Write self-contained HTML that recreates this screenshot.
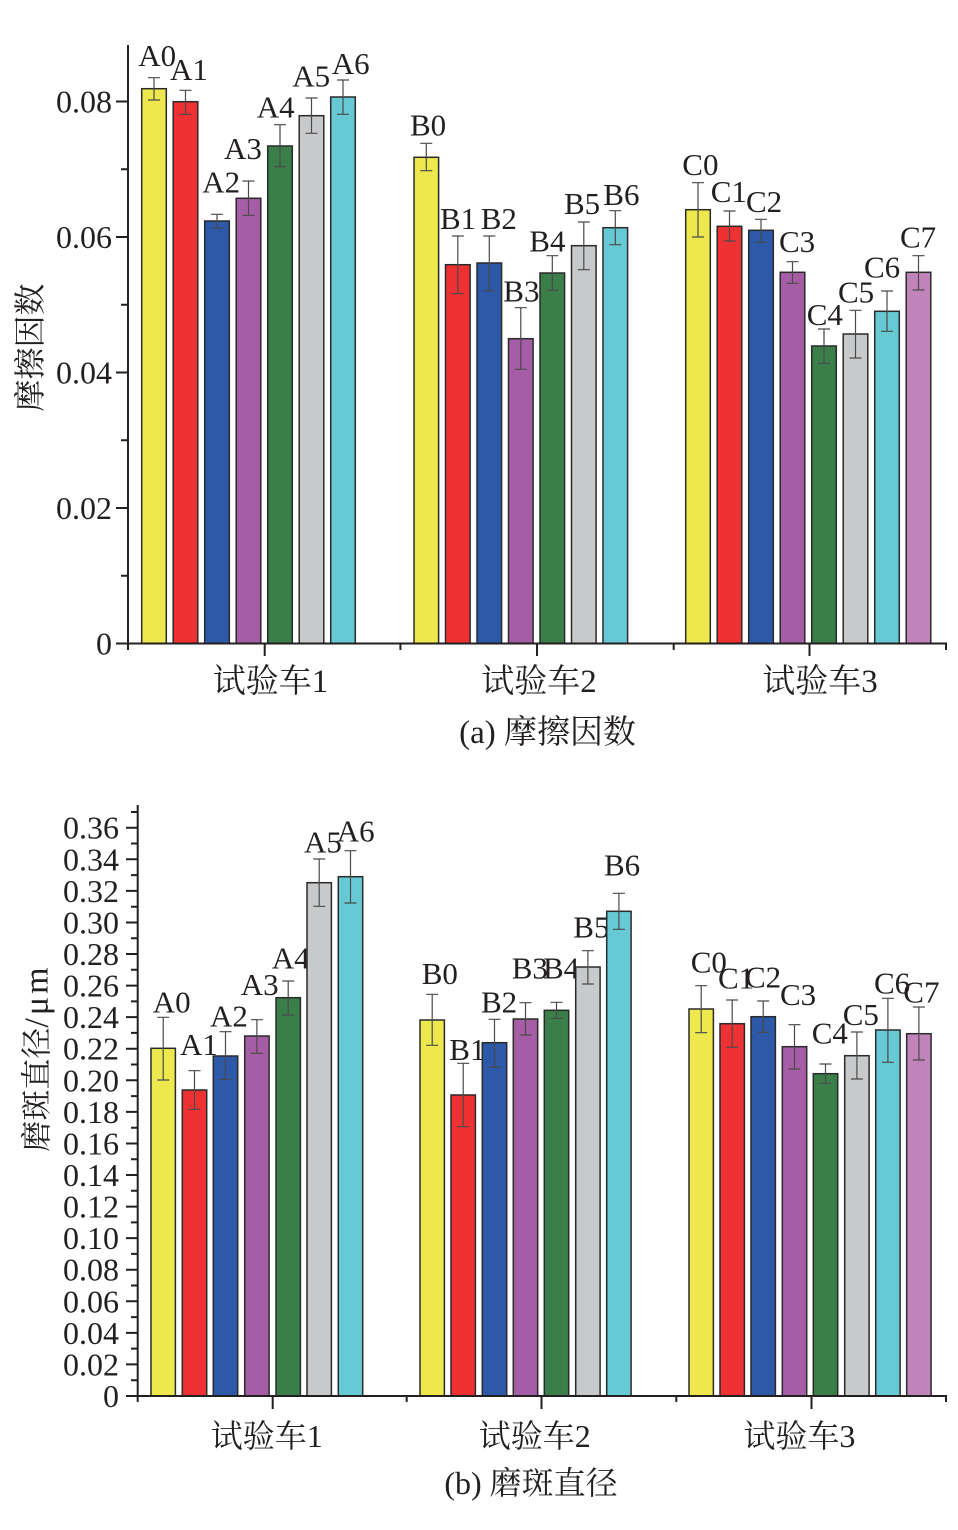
<!DOCTYPE html>
<html><head><meta charset="utf-8"><style>
html,body{margin:0;padding:0;background:#fff;}
svg{display:block;}
.t{font-family:"Liberation Serif","Noto Serif CJK SC",serif;fill:#231f20;}
</style></head><body>
<svg width="958" height="1530" viewBox="0 0 958 1530" xmlns="http://www.w3.org/2000/svg">
<rect width="958" height="1530" fill="#fff"/>

<!-- ================= TOP CHART ================= -->
<g class="t" font-size="31">
<text x="138.3" y="66">A0</text><text x="170" y="80">A1</text><text x="202.3" y="192.3">A2</text><text x="224" y="159">A3</text><text x="256.7" y="117.3">A4</text><text x="292.3" y="86.7">A5</text><text x="331.7" y="74">A6</text>
<text x="410" y="135.7">B0</text><text x="440" y="229">B1</text><text x="480.7" y="229">B2</text><text x="503.3" y="301.7">B3</text><text x="529.3" y="251.7">B4</text><text x="564" y="214">B5</text><text x="603.3" y="205">B6</text>
<text x="682.3" y="175">C0</text><text x="710.7" y="202">C1</text><text x="746" y="212">C2</text><text x="779" y="252">C3</text><text x="806.7" y="325">C4</text><text x="838" y="302.7">C5</text><text x="864" y="277.7">C6</text><text x="900" y="247.3">C7</text>
</g>
<g stroke="#2a2a2a" stroke-width="1.5">
<rect x="141.7" y="88.7" width="24.6" height="554.8" fill="#ECE84E"/>
<rect x="173.2" y="101.7" width="24.6" height="541.8" fill="#EE3233"/>
<rect x="204.7" y="221" width="24.6" height="422.5" fill="#2E59A8"/>
<rect x="236.2" y="198.3" width="24.6" height="445.2" fill="#A55EA5"/>
<rect x="267.7" y="146" width="24.6" height="497.5" fill="#3A7F4A"/>
<rect x="299.2" y="115.7" width="24.6" height="527.8" fill="#C8C9CB"/>
<rect x="330.7" y="97" width="24.6" height="546.5" fill="#67C9D3"/>

<rect x="414" y="157.3" width="24.6" height="486.2" fill="#ECE84E"/>
<rect x="445.5" y="264.7" width="24.6" height="378.8" fill="#EE3233"/>
<rect x="477" y="263" width="24.6" height="380.5" fill="#2E59A8"/>
<rect x="508.5" y="338.7" width="24.6" height="304.8" fill="#A55EA5"/>
<rect x="540" y="273" width="24.6" height="370.5" fill="#3A7F4A"/>
<rect x="571.5" y="245.7" width="24.6" height="397.8" fill="#C8C9CB"/>
<rect x="603" y="227.7" width="24.6" height="415.8" fill="#67C9D3"/>

<rect x="685.7" y="209.7" width="24.6" height="433.8" fill="#ECE84E"/>
<rect x="717.2" y="226.3" width="24.6" height="417.2" fill="#EE3233"/>
<rect x="748.7" y="230.3" width="24.6" height="413.2" fill="#2E59A8"/>
<rect x="780.2" y="272.3" width="24.6" height="371.2" fill="#A55EA5"/>
<rect x="811.7" y="346" width="24.6" height="297.5" fill="#3A7F4A"/>
<rect x="843.2" y="334" width="24.6" height="309.5" fill="#C8C9CB"/>
<rect x="874.7" y="311.3" width="24.6" height="332.2" fill="#67C9D3"/>
<rect x="906.2" y="272.3" width="24.6" height="371.2" fill="#C184BA"/>
</g>
<g stroke="#4a4a4a" stroke-width="1.2" fill="none">
<path d="M148 77.7H160M154 77.7V100M148 100H160"/>
<path d="M179.5 90.3H191.5M185.5 90.3V114.3M179.5 114.3H191.5"/>
<path d="M211 214.3H223M217 214.3V228.3M211 228.3H223"/>
<path d="M242.5 181H254.5M248.5 181V215.3M242.5 215.3H254.5"/>
<path d="M274 124.7H286M280 124.7V166.7M274 166.7H286"/>
<path d="M305.5 98H317.5M311.5 98V133.3M305.5 133.3H317.5"/>
<path d="M337 80H349M343 80V114.3M337 114.3H349"/>

<path d="M420.3 143.3H432.3M426.3 143.3V170.7M420.3 170.7H432.3"/>
<path d="M451.8 236H463.8M457.8 236V293.7M451.8 293.7H463.8"/>
<path d="M483.3 236H495.3M489.3 236V290.7M483.3 290.7H495.3"/>
<path d="M514.8 307.7H526.8M520.8 307.7V369.3M514.8 369.3H526.8"/>
<path d="M546.3 255.7H558.3M552.3 255.7V290.3M546.3 290.3H558.3"/>
<path d="M577.8 222H589.8M583.8 222V269.7M577.8 269.7H589.8"/>
<path d="M609.3 210.7H621.3M615.3 210.7V244.7M609.3 244.7H621.3"/>

<path d="M692 182.7H704M698 182.7V237M692 237H704"/>
<path d="M723.5 211H735.5M729.5 211V241M723.5 241H735.5"/>
<path d="M755 219.3H767M761 219.3V242.3M755 242.3H767"/>
<path d="M786.5 261.7H798.5M792.5 261.7V283.3M786.5 283.3H798.5"/>
<path d="M818 329H830M824 329V363.3M818 363.3H830"/>
<path d="M849.5 310.3H861.5M855.5 310.3V358M849.5 358H861.5"/>
<path d="M881 291H893M887 291V331.3M881 331.3H893"/>
<path d="M912.5 255.7H924.5M918.5 255.7V290M912.5 290H924.5"/>
</g>
<g stroke="#231f20" stroke-width="2" fill="none">
<path d="M128 45V644.5"/>
<path d="M127 643.5H947"/>
<path d="M116 643.5H128M116 508H128M116 372.5H128M116 237H128M116 101.5H128"/>
<path d="M121 575.75H128M121 440.25H128M121 304.75H128M121 169.25H128"/>
<path d="M264.7 643.5V656M537 643.5V656M809.5 643.5V656"/>
<path d="M128 643.5V650M400.4 643.5V650M673.7 643.5V650M946 643.5V650"/>
</g>
<g class="t" font-size="32" text-anchor="end">
<text x="112" y="654.5">0</text>
<text x="112" y="519">0.02</text>
<text x="112" y="383.5">0.04</text>
<text x="112" y="248">0.06</text>
<text x="112" y="112.5">0.08</text>
</g>
<g class="t" font-size="33" text-anchor="middle">
<text x="270.5" y="692">试验车1</text>
<text x="539" y="692">试验车2</text>
<text x="820" y="692">试验车3</text>
<text x="547.6" y="743">(a) 摩擦因数</text>
</g>
<text class="t" font-size="32" text-anchor="middle" transform="translate(41,347.5) rotate(-90)">摩擦因数</text>

<!-- ================= BOTTOM CHART ================= -->
<g class="t" font-size="31">
<text x="152.7" y="1012.7">A0</text><text x="180" y="1055">A1</text><text x="210" y="1026.7">A2</text><text x="240.7" y="995">A3</text><text x="271.7" y="968.3">A4</text><text x="304" y="852.7">A5</text><text x="336.7" y="841.7">A6</text>
<text x="421.7" y="984">B0</text><text x="449.3" y="1060">B1</text><text x="481" y="1012.7">B2</text><text x="511.7" y="978.3">B3</text><text x="543" y="978.3">B4</text><text x="573.3" y="937.3">B5</text><text x="604" y="875.7">B6</text>
<text x="690.7" y="972.3">C0</text><text x="718" y="988.3">C1</text><text x="745" y="987.3">C2</text><text x="780" y="1005">C3</text><text x="811.7" y="1043.3">C4</text><text x="842.7" y="1025">C5</text><text x="874" y="993.3">C6</text><text x="903.3" y="1002.7">C7</text>
</g>
<g stroke="#2a2a2a" stroke-width="1.5">
<rect x="151" y="1048.3" width="24.4" height="347.7" fill="#ECE84E"/>
<rect x="182.3" y="1090" width="24.4" height="306" fill="#EE3233"/>
<rect x="213.3" y="1056" width="24.4" height="340" fill="#2E59A8"/>
<rect x="244.7" y="1036" width="24.4" height="360" fill="#A55EA5"/>
<rect x="276" y="997.7" width="24.4" height="398.3" fill="#3A7F4A"/>
<rect x="307" y="882.7" width="24.4" height="513.3" fill="#C8C9CB"/>
<rect x="338.3" y="876.7" width="24.4" height="519.3" fill="#67C9D3"/>

<rect x="420" y="1020" width="24.4" height="376" fill="#ECE84E"/>
<rect x="451" y="1095" width="24.4" height="301" fill="#EE3233"/>
<rect x="482.3" y="1042.7" width="24.4" height="353.3" fill="#2E59A8"/>
<rect x="513.3" y="1019" width="24.4" height="377" fill="#A55EA5"/>
<rect x="544.3" y="1010.3" width="24.4" height="385.7" fill="#3A7F4A"/>
<rect x="575.7" y="967" width="24.4" height="429" fill="#C8C9CB"/>
<rect x="606.7" y="911.3" width="24.4" height="484.7" fill="#67C9D3"/>

<rect x="689" y="1009" width="24.4" height="387" fill="#ECE84E"/>
<rect x="720" y="1023.7" width="24.4" height="372.3" fill="#EE3233"/>
<rect x="751" y="1016.7" width="24.4" height="379.3" fill="#2E59A8"/>
<rect x="782.3" y="1046.7" width="24.4" height="349.3" fill="#A55EA5"/>
<rect x="813.3" y="1073.7" width="24.4" height="322.3" fill="#3A7F4A"/>
<rect x="844.7" y="1055.7" width="24.4" height="340.3" fill="#C8C9CB"/>
<rect x="875.7" y="1030" width="24.4" height="366" fill="#67C9D3"/>
<rect x="906.7" y="1033.7" width="24.4" height="362.3" fill="#C184BA"/>
</g>
<g stroke="#4a4a4a" stroke-width="1.2" fill="none">
<path d="M157.2 1017.3H169.2M163.2 1017.3V1080M157.2 1080H169.2"/>
<path d="M188.5 1070.7H200.5M194.5 1070.7V1109.3M188.5 1109.3H200.5"/>
<path d="M219.5 1031.7H231.5M225.5 1031.7V1079.3M219.5 1079.3H231.5"/>
<path d="M250.9 1019.7H262.9M256.9 1019.7V1053.3M250.9 1053.3H262.9"/>
<path d="M282.2 981H294.2M288.2 981V1015M282.2 1015H294.2"/>
<path d="M313.2 859H325.2M319.2 859V906.3M313.2 906.3H325.2"/>
<path d="M344.5 850.7H356.5M350.5 850.7V903M344.5 903H356.5"/>

<path d="M426.2 994.3H438.2M432.2 994.3V1045.3M426.2 1045.3H438.2"/>
<path d="M457.2 1063.3H469.2M463.2 1063.3V1126.7M457.2 1126.7H469.2"/>
<path d="M488.5 1019.3H500.5M494.5 1019.3V1067.3M488.5 1067.3H500.5"/>
<path d="M519.5 1002.7H531.5M525.5 1002.7V1035M519.5 1035H531.5"/>
<path d="M550.5 1002.3H562.5M556.5 1002.3V1018.3M550.5 1018.3H562.5"/>
<path d="M581.9 950.7H593.9M587.9 950.7V984M581.9 984H593.9"/>
<path d="M612.9 893.3H624.9M618.9 893.3V929.3M612.9 929.3H624.9"/>

<path d="M695.2 985.7H707.2M701.2 985.7V1032.7M695.2 1032.7H707.2"/>
<path d="M726.2 1000H738.2M732.2 1000V1047.3M726.2 1047.3H738.2"/>
<path d="M757.2 1001H769.2M763.2 1001V1032.3M757.2 1032.3H769.2"/>
<path d="M788.5 1024.7H800.5M794.5 1024.7V1069M788.5 1069H800.5"/>
<path d="M819.5 1064H831.5M825.5 1064V1083.3M819.5 1083.3H831.5"/>
<path d="M850.9 1032H862.9M856.9 1032V1079M850.9 1079H862.9"/>
<path d="M881.9 998.3H893.9M887.9 998.3V1062.3M881.9 1062.3H893.9"/>
<path d="M912.9 1007H924.9M918.9 1007V1060M912.9 1060H924.9"/>
</g>
<g stroke="#231f20" stroke-width="2" fill="none">
<path d="M137.7 805V1397"/>
<path d="M136.7 1396H947"/>
<path d="M126 1396H137.7M126 1364.43H137.7M126 1332.86H137.7M126 1301.29H137.7M126 1269.72H137.7M126 1238.15H137.7M126 1206.58H137.7M126 1175.01H137.7M126 1143.44H137.7M126 1111.87H137.7M126 1080.3H137.7M126 1048.73H137.7M126 1017.16H137.7M126 985.59H137.7M126 954.02H137.7M126 922.45H137.7M126 890.88H137.7M126 859.31H137.7M126 827.74H137.7"/>
<path d="M131 1380.2H137.7M131 1348.6H137.7M131 1317.1H137.7M131 1285.5H137.7M131 1253.9H137.7M131 1222.4H137.7M131 1190.8H137.7M131 1159.2H137.7M131 1127.7H137.7M131 1096.1H137.7M131 1064.5H137.7M131 1032.9H137.7M131 1001.4H137.7M131 969.8H137.7M131 938.2H137.7M131 906.7H137.7M131 875.1H137.7M131 843.5H137.7M131 812H137.7"/>
<path d="M272.7 1396V1409M541.5 1396V1409M811.5 1396V1409"/>
<path d="M137.7 1396V1402M406.7 1396V1402M676.3 1396V1402M946 1396V1402"/>
</g>
<g class="t" font-size="32" text-anchor="end">
<text x="119" y="1407">0</text>
<text x="119" y="1375.4">0.02</text>
<text x="119" y="1343.9">0.04</text>
<text x="119" y="1312.3">0.06</text>
<text x="119" y="1280.7">0.08</text>
<text x="119" y="1249.2">0.10</text>
<text x="119" y="1217.6">0.12</text>
<text x="119" y="1186">0.14</text>
<text x="119" y="1154.4">0.16</text>
<text x="119" y="1122.9">0.18</text>
<text x="119" y="1091.3">0.20</text>
<text x="119" y="1059.7">0.22</text>
<text x="119" y="1028.2">0.24</text>
<text x="119" y="996.6">0.26</text>
<text x="119" y="965">0.28</text>
<text x="119" y="933.5">0.30</text>
<text x="119" y="901.9">0.32</text>
<text x="119" y="870.3">0.34</text>
<text x="119" y="838.7">0.36</text>
</g>
<g class="t" font-size="32" text-anchor="middle">
<text x="266.7" y="1447">试验车1</text>
<text x="534.7" y="1447">试验车2</text>
<text x="799.4" y="1447">试验车3</text>
<text x="531" y="1494">(b) 磨斑直径</text>
</g>
<text class="t" font-size="31" text-anchor="middle" transform="translate(47.5,1058) rotate(-90)">磨斑直径<tspan font-size="34" letter-spacing="3">/μm</tspan></text>
</svg>
</body></html>
